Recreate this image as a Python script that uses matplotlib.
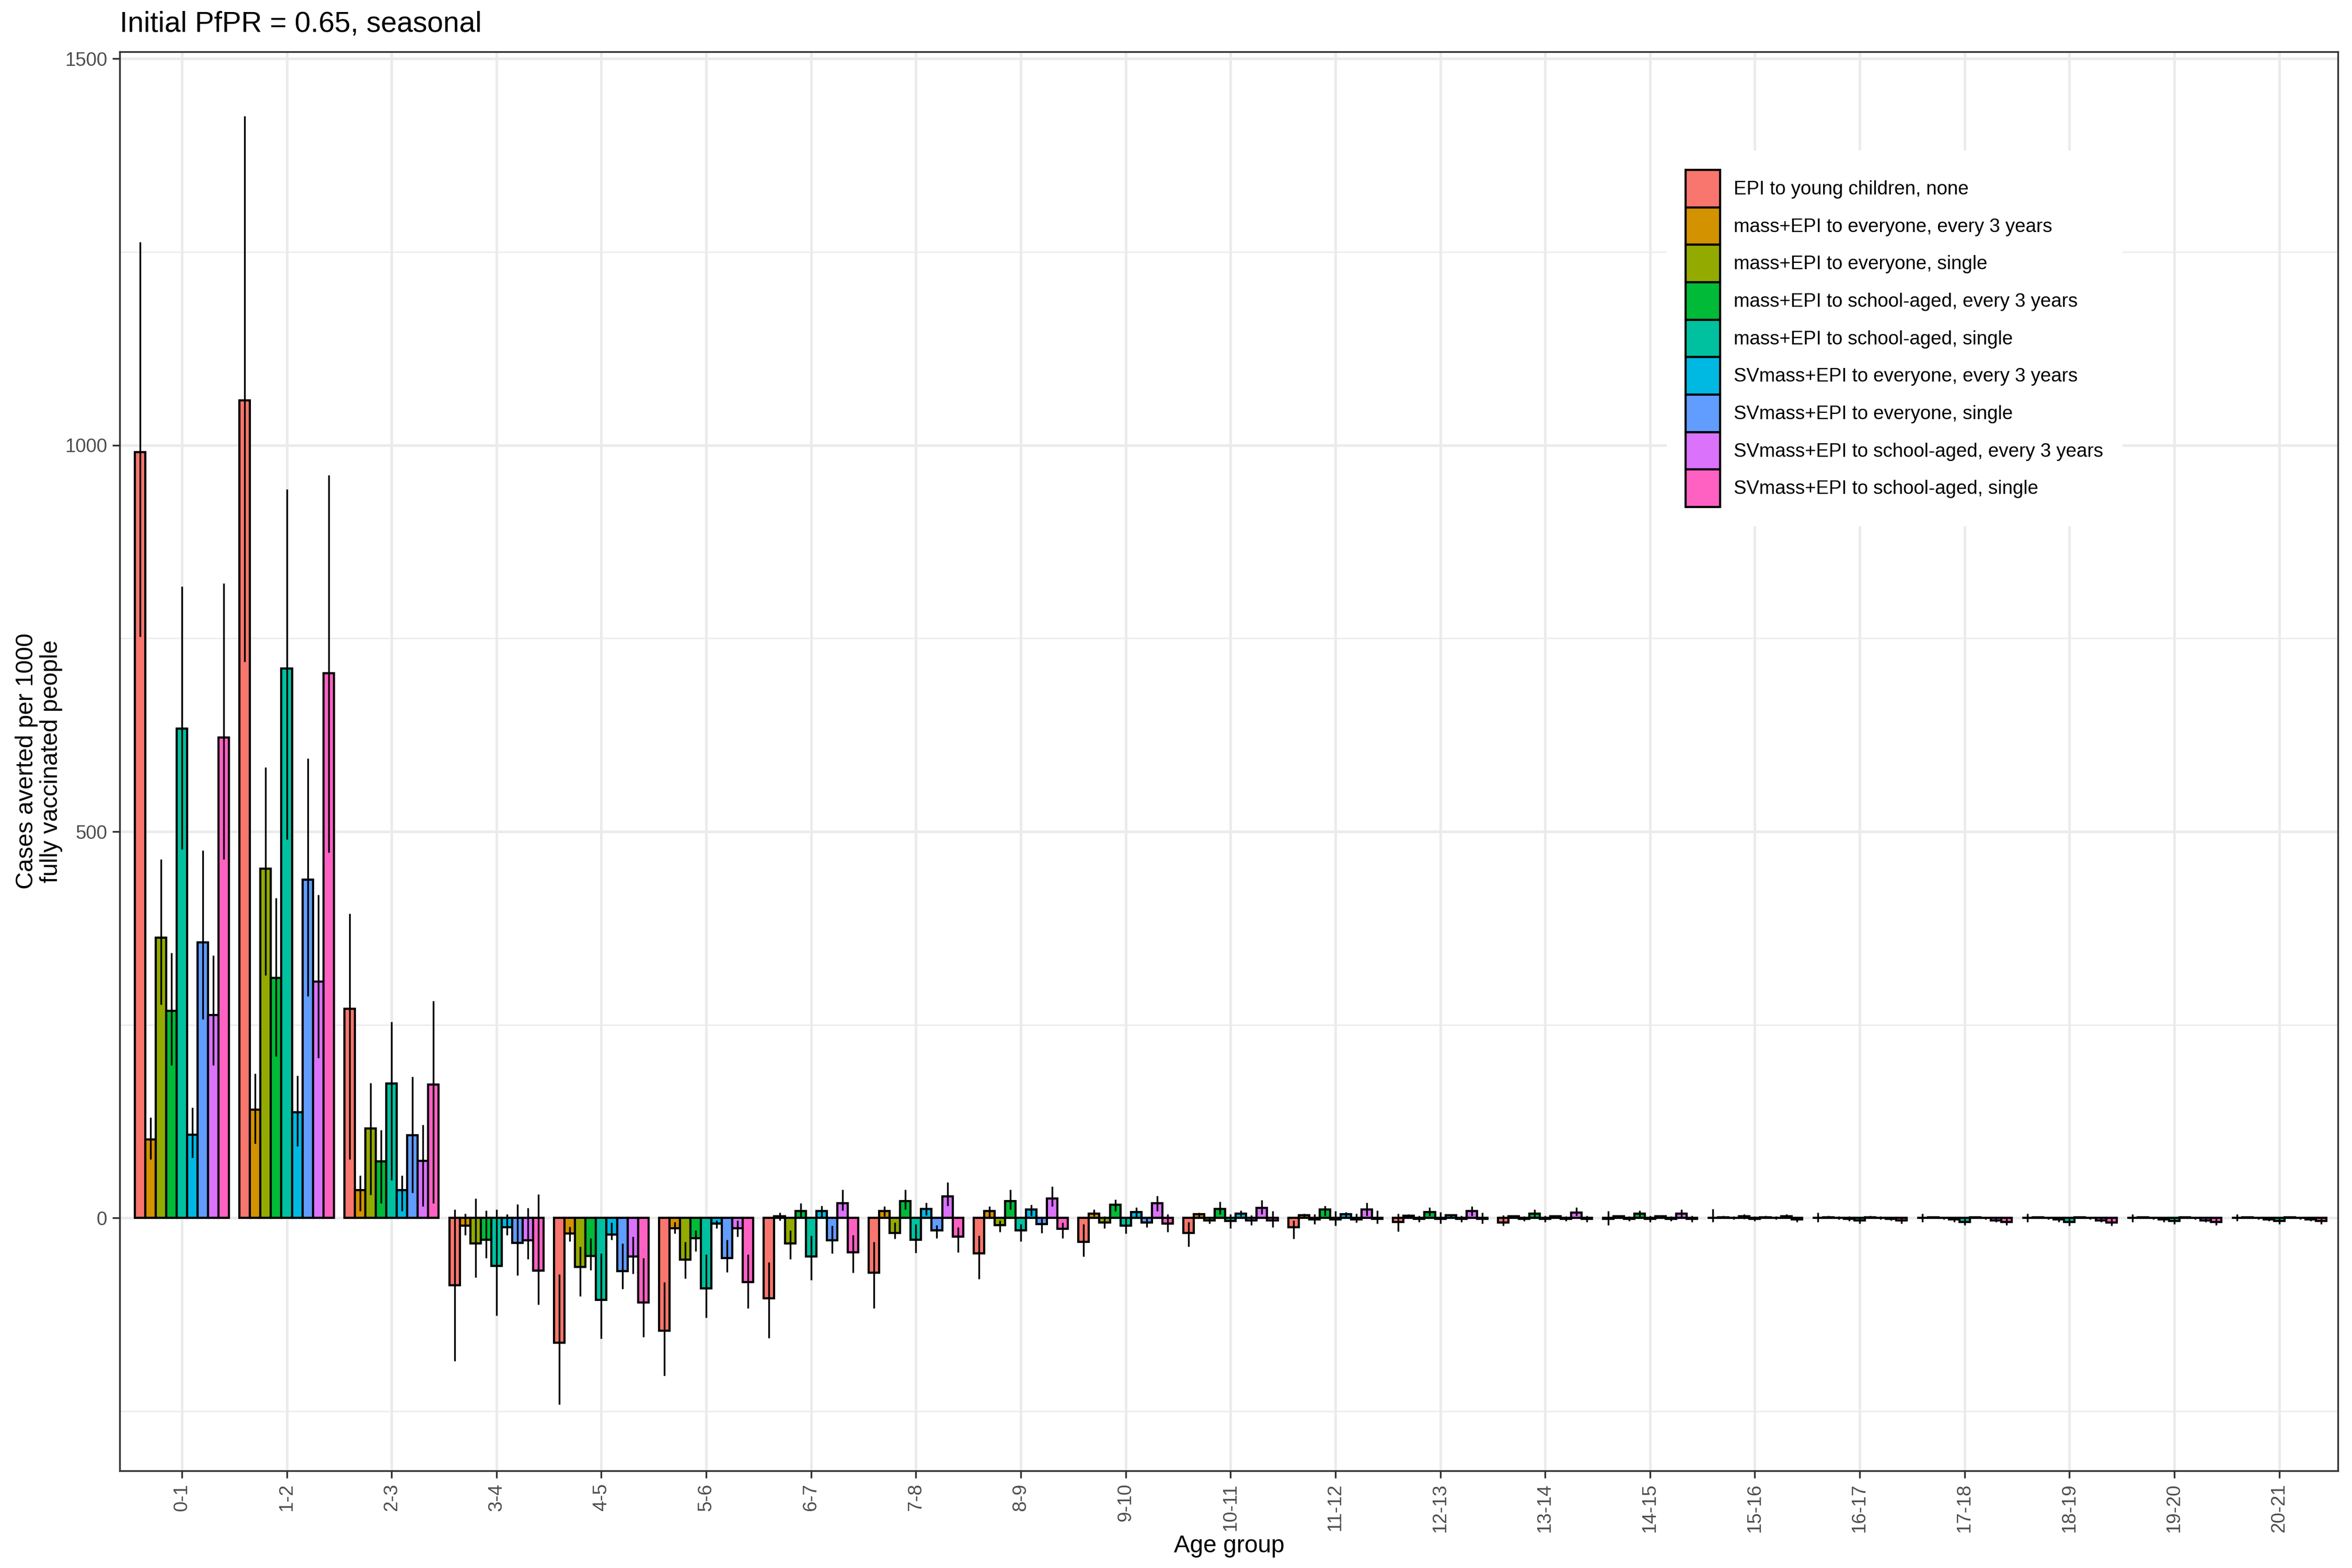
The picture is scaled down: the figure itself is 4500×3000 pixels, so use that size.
import numpy as np
import matplotlib.pyplot as plt

plt.rcParams['font.family'] = ['Liberation Sans', 'DejaVu Sans']

age_groups = [f"{i}-{i+1}" for i in range(21)]

series_names = [
    "EPI to young children, none",
    "mass+EPI to everyone, every 3 years",
    "mass+EPI to everyone, single",
    "mass+EPI to school-aged, every 3 years",
    "mass+EPI to school-aged, single",
    "SVmass+EPI to everyone, every 3 years",
    "SVmass+EPI to everyone, single",
    "SVmass+EPI to school-aged, every 3 years",
    "SVmass+EPI to school-aged, single",
]
colors = ["#F8766D", "#D39200", "#93AA00", "#00BA38", "#00C19F",
          "#00B9E3", "#619CFF", "#DB72FB", "#FF61C3"]

# mean, lower, upper per strategy
epi_mean = [991, 1058, 271, -87, -161, -146, -104, -71, -46, -31, -19, -12, -5, -6, -1, 0, 0, 0, 0, 0, 0]
epi_lo = [752, 720, 76, -185, -241, -204, -155, -117, -79, -50, -37, -27, -17, -10, -9, -5, -5, -5, -5, -5, -4]
epi_hi = [1263, 1426, 394, 11, -73, -83, -57, -31, -23, -8, -5, -3, 6, 4, 9, 12, 7, 6, 6, 5, 5]

all3_mean = [102, 140, 36, -10, -20, -13, 2, 9, 9, 6, 5, 4, 3, 2, 2, 1, 1, 1, 1, 1, 1]
all3_lo = [76, 96, 9, -22, -30, -20, -3, 2, 1, 2, 1, 1, 1, 0, 0, 0, 0, 0, 0, 0, 0]
all3_hi = [130, 187, 55, 6, -11, -5, 7, 15, 15, 11, 7, 6, 5, 4, 4, 3, 3, 2, 2, 2, 2]

alls_mean = [363, 452, 116, -33, -63, -54, -33, -19, -9, -6, -3, -2, -1, -1, -1, 0, 0, 0, 0, 0, 0]
alls_lo = [276, 314, 30, -77, -101, -78, -53, -27, -18, -13, -7, -8, -5, -4, -4, -2, -2, -2, -2, -2, -2]
alls_hi = [464, 583, 175, 25, -37, -31, -16, -6, -3, 2, 1, 5, 3, 2, 2, 2, 2, 1, 1, 1, 1]

sch3_mean = [268, 311, 73, -28, -49, -26, 9, 22, 22, 17, 12, 11, 8, 6, 6, 2, -1, -2, -2, -2, -2]
sch3_lo = [198, 209, 19, -52, -67, -43, 0, 11, 11, 9, 5, 3, 3, 1, 1, -1, -4, -5, -5, -5, -4]
sch3_hi = [343, 414, 114, 10, -26, -16, 19, 37, 37, 24, 21, 16, 14, 11, 10, 5, 2, 1, 1, 1, 1]

schs_mean = [633, 711, 174, -62, -106, -91, -50, -28, -16, -10, -4, -2, -1, -1, -1, -1, -3, -5, -5, -4, -4]
schs_lo = [477, 490, 49, -126, -156, -129, -80, -45, -30, -20, -13, -10, -7, -5, -5, -4, -7, -9, -10, -8, -8]
schs_hi = [817, 943, 254, 11, -46, -47, -23, -8, -8, 1, 5, 9, 8, 3, 3, 2, 1, 0, 0, 0, 0]

sv_all3_mean = [108, 137, 36, -12, -21, -7, 9, 12, 11, 8, 6, 5, 4, 2, 2, 1, 1, 1, 1, 1, 1]
sv_all3_lo = [78, 93, 9, -22, -28, -13, 0, 4, 3, 1, 2, 1, 1, 0, 0, 0, 0, 0, 0, 0, 0]
sv_all3_hi = [143, 184, 55, 5, -6, -3, 16, 20, 17, 14, 10, 8, 5, 4, 4, 3, 3, 2, 2, 2, 2]

sv_alls_mean = [357, 438, 107, -32, -69, -52, -29, -16, -8, -6, -3, -2, -1, -1, -1, 0, 0, 0, 0, 0, 0]
sv_alls_lo = [257, 287, 33, -74, -92, -70, -46, -26, -19, -12, -9, -6, -5, -4, -4, -2, -2, -2, -2, -2, -2]
sv_alls_hi = [476, 595, 183, 18, -33, -28, -10, -9, 0, 1, 4, 6, 3, 2, 2, 2, 2, 1, 1, 1, 1]

sv_sch3_mean = [263, 306, 74, -29, -50, -13, 19, 28, 25, 19, 13, 11, 9, 7, 6, 2, -1, -3, -3, -3, -2]
sv_sch3_lo = [198, 207, 15, -53, -72, -24, 10, 16, 15, 9, 5, 3, 3, 3, 1, 0, -3, -5, -5, -5, -4]
sv_sch3_hi = [340, 418, 121, 13, -24, -3, 37, 46, 41, 29, 23, 20, 15, 14, 11, 5, 1, 0, 0, 0, 0]

sv_schs_mean = [622, 705, 173, -68, -109, -83, -44, -24, -14, -7, -3, -1, -1, -1, -1, -2, -3, -5, -6, -5, -4]
sv_schs_lo = [464, 473, 19, -112, -154, -117, -71, -44, -26, -18, -12, -7, -7, -5, -5, -5, -7, -9, -10, -9, -8]
sv_schs_hi = [821, 961, 281, 31, -52, -47, -22, -12, -6, 5, 9, 10, 7, 3, 3, 1, 1, 0, 0, 0, 0]

means = [epi_mean, all3_mean, alls_mean, sch3_mean, schs_mean,
         sv_all3_mean, sv_alls_mean, sv_sch3_mean, sv_schs_mean]
lows = [epi_lo, all3_lo, alls_lo, sch3_lo, schs_lo,
        sv_all3_lo, sv_alls_lo, sv_sch3_lo, sv_schs_lo]
highs = [epi_hi, all3_hi, alls_hi, sch3_hi, schs_hi,
         sv_all3_hi, sv_alls_hi, sv_sch3_hi, sv_schs_hi]

fig = plt.figure(figsize=(15, 10), dpi=300)
ax = fig.add_axes([0.051, 0.062, 0.943, 0.905])

x = np.arange(len(age_groups))
n = len(series_names)
bw = 0.9 / n

# grid like theme_bw
for v in [-250, 250, 750, 1250]:
    ax.axhline(v, color="#EBEBEB", lw=0.6, zorder=0)
for v in [0, 500, 1000, 1500]:
    ax.axhline(v, color="#EBEBEB", lw=1.2, zorder=0)
for xi in x:
    ax.axvline(xi, color="#EBEBEB", lw=1.2, zorder=0)

for k in range(n):
    pos = x - 0.45 + bw * (k + 0.5)
    ax.bar(pos, means[k], width=bw, color=colors[k], edgecolor="black",
           linewidth=1.0, label=series_names[k], zorder=2)
    ax.vlines(pos, lows[k], highs[k], color="black", lw=0.8, zorder=3)

ax.set_xlim(-0.59, 20.56)
ax.set_ylim(-327, 1509)
ax.set_xticks(x)
ax.set_xticklabels(age_groups, rotation=90, fontsize=8.8, color="#4D4D4D")
ax.set_yticks([0, 500, 1000, 1500])
ax.set_yticklabels(["0", "500", "1000", "1500"], fontsize=8.8, color="#4D4D4D")
ax.tick_params(axis="both", color="#333333", length=3.3, width=0.8, pad=2.5)

for sp in ax.spines.values():
    sp.set_color("#333333")
    sp.set_linewidth(0.8)

ax.set_xlabel("Age group", fontsize=11, labelpad=1)
ax.set_ylabel("Cases averted per 1000\nfully vaccinated people", fontsize=11,
              labelpad=1, linespacing=1.1)
ax.set_title("Initial PfPR = 0.65, seasonal", loc="left", fontsize=13.2, pad=9)

leg = ax.legend(loc="upper left", bbox_to_anchor=(0.693, 0.937), fontsize=8.8,
                frameon=True, facecolor="white", edgecolor="none", framealpha=1,
                handlelength=1.8, handleheight=2.63, labelspacing=0.0,
                handletextpad=0.7, borderpad=1.0)
leg.set_zorder(5)

fig.savefig("out.png", dpi=300)
